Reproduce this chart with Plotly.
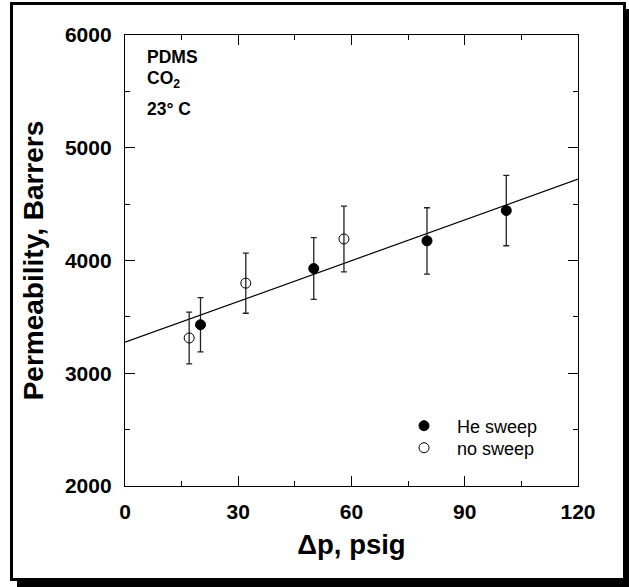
import plotly.graph_objects as go

# ---- data ----
he_x = [20, 50, 80, 101]
he_y = [3430, 3929, 4174, 4443]
he_err = [240, 274, 294, 312]

no_x = [17, 32, 58]
no_y = [3313, 3799, 4191]
no_err = [230, 267, 292]

fit_x = [0, 120]
fit_y = [3275, 4722]

x_ticks = [0, 30, 60, 90, 120]
y_ticks = [2000, 3000, 4000, 5000, 6000]

FONT = "Liberation Sans, Arial, sans-serif"
W, H = 629, 587
L, R, T, B = 125, 51, 35, 101
PW, PH = W - L - R, H - T - B


def px(x):
    return (x - L) / PW


def py(y):
    return (H - B - y) / PH


fig = go.Figure()

fig.add_trace(go.Scatter(
    x=fit_x, y=fit_y, mode="lines", line=dict(color="black", width=1.2),
    showlegend=False, hoverinfo="skip"))

fig.add_trace(go.Scatter(
    x=he_x, y=he_y, mode="markers", name="He sweep", legend="legend",
    marker=dict(symbol="circle", size=10, color="black", line=dict(color="black", width=1)),
    error_y=dict(type="data", array=he_err, visible=True, color="#222", thickness=1.3, width=3)))

fig.add_trace(go.Scatter(
    x=no_x, y=no_y, mode="markers", name="no sweep", legend="legend2",
    marker=dict(symbol="circle-open", size=10, color="black", line=dict(color="black", width=1)),
    error_y=dict(type="data", array=no_err, visible=True, color="#222", thickness=1.3, width=3)))

# frame with drop shadow
shapes = [
    dict(type="rect", xref="paper", yref="paper", layer="below",
         x0=px(17), x1=px(629), y0=py(9), y1=py(587),
         fillcolor="black", line=dict(width=0)),
    dict(type="rect", xref="paper", yref="paper", layer="below",
         x0=px(10), x1=px(626), y0=py(2), y1=py(581),
         fillcolor="black", line=dict(width=0)),
    dict(type="rect", xref="paper", yref="paper", layer="below",
         x0=px(13), x1=px(623), y0=py(5), y1=py(578),
         fillcolor="white", line=dict(width=0)),
]

annotations = [
    dict(text="<b>PDMS</b>", x=px(145), y=py(57), xref="paper", yref="paper",
         xanchor="left", yanchor="middle", showarrow=False,
         font=dict(family=FONT, size=17.5, color="black")),
    dict(text="<b>CO<sub>2</sub></b>", x=px(145), y=py(80), xref="paper", yref="paper",
         xanchor="left", yanchor="middle", showarrow=False,
         font=dict(family=FONT, size=17.5, color="black")),
    dict(text="<b>23° C</b>", x=px(145), y=py(109), xref="paper", yref="paper",
         xanchor="left", yanchor="middle", showarrow=False,
         font=dict(family=FONT, size=17.5, color="black")),
]

axis_common = dict(
    showline=True, linecolor="black", linewidth=1.3, mirror="ticks",
    ticks="inside", ticklen=10, tickwidth=1.3, tickcolor="black",
    showgrid=False, zeroline=False,
    tickfont=dict(family=FONT, size=21, color="black", weight="bold"),
)

fig.update_xaxes(
    range=[0, 120], tickvals=x_ticks, ticktext=[str(v) for v in x_ticks],
    minor=dict(dtick=15, ticks="inside", ticklen=5, tickwidth=1.3, tickcolor="black", tick0=0),
    title=dict(text="<b>\u0394p, psig</b>", font=dict(family=FONT, size=27.5, color="black"), standoff=12),
    ticklabelstandoff=7,
    **axis_common)
fig.update_yaxes(
    range=[2000, 6000], tickvals=y_ticks, ticktext=[str(v) for v in y_ticks],
    minor=dict(dtick=500, ticks="inside", ticklen=5, tickwidth=1.3, tickcolor="black", tick0=0),
    title=dict(text="<b>Permeability, Barrers</b>", font=dict(family=FONT, size=28, color="black"), standoff=13),
    ticklabelstandoff=8,
    **axis_common)

legend_common = dict(xanchor="left", yanchor="middle",
                     bgcolor="rgba(0,0,0,0)", borderwidth=0, itemwidth=56,
                     font=dict(family=FONT, size=18, color="black"))

fig.update_layout(
    width=W, height=H,
    margin=dict(l=L, r=R, t=T, b=B, autoexpand=False),
    paper_bgcolor="white", plot_bgcolor="rgba(0,0,0,0)",
    shapes=shapes, annotations=annotations,
    legend=dict(x=px(391), y=py(426), **legend_common),
    legend2=dict(x=px(391), y=py(448), **legend_common),
    font=dict(family=FONT, color="black"),
)

fig.write_html("out.html")
